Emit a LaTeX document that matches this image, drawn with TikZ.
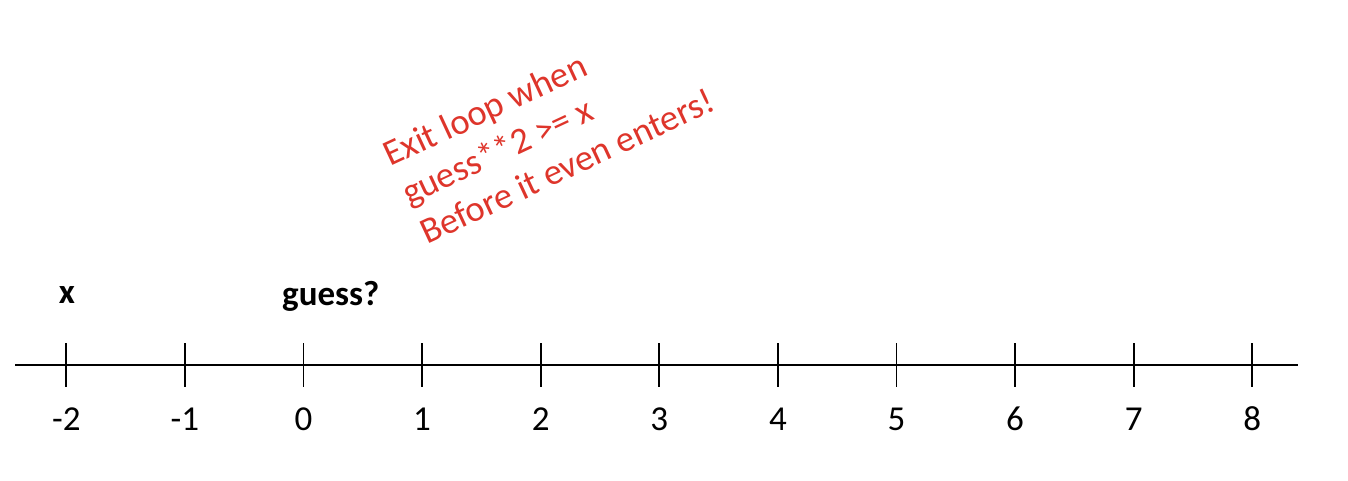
\documentclass[tikz,border=0pt]{standalone}
\usepackage{fontspec}
\setmainfont{Carlito}
\usetikzlibrary{positioning}
\definecolor{notered}{RGB}{222,53,43}

\begin{document}
\begin{tikzpicture}[
  x=1pt, y=-1pt,
  axis/.style={line width=1.8pt},
  tck/.style={line width=1.8pt},
  num/.style={
    font=\fontsize{35}{42}\selectfont,
    inner sep=0pt, anchor=base
  },
  varlbl/.style={
    font=\fontsize{35}{42}\selectfont\bfseries,
    inner sep=0pt
  },
  note/.style={
    font=\fontsize{36.5}{43}\selectfont, text=notered,
    inner sep=0pt, align=left, rotate=25, anchor=base west
  }
]
  \useasboundingbox (0,0) rectangle (1348,480);
  \coordinate (lstart) at (15,365);
  \coordinate (lend) at (1298,365);
  \draw[axis] (lstart)--(lend);
  \foreach \v [count=\i] in {-2,...,8} {
    \coordinate (t\i) at ({303.5+118.6*\v},365);
    \draw[tck] (t\i) ++(0,-22) -- ++(0,44);
    \node[num] (n\i) at ({303.5+118.6*\v},430){\v};
  }
  \node[varlbl, anchor=base] (xvar) at (67,303){x};
  \node[varlbl, anchor=base west] (guess) at (282,305){guess?};
  \node[note] (exit) at (427,245){Exit loop when\\guess**2 >= x\\Before it even enters!};
\end{tikzpicture}
\end{document}
